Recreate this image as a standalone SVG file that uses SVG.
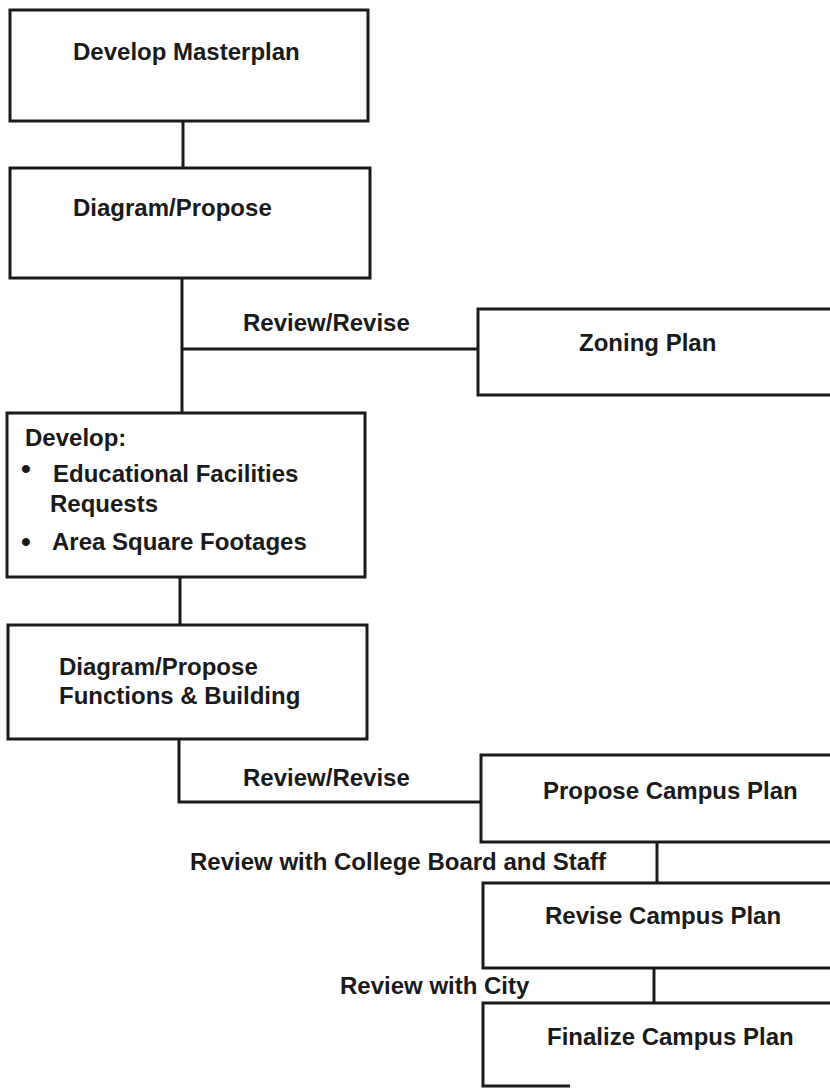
<svg xmlns="http://www.w3.org/2000/svg" width="830" height="1088" viewBox="0 0 830 1088">
<style>
.box{fill:#fff;stroke:#1a1a1a;stroke-width:3}
.ln{fill:none;stroke:#1a1a1a;stroke-width:3}
text{font-family:"Liberation Sans",Arial,Helvetica,sans-serif;font-weight:bold;font-size:24px;fill:#1a1a1a}
.bul{font-size:28px}
</style>
<rect width="830" height="1088" fill="#fff"/>
<g id="connectors">
<line class="ln" x1="183" y1="121" x2="183" y2="168"/>
<line class="ln" x1="182" y1="278" x2="182" y2="413"/>
<line class="ln" x1="182" y1="349" x2="478" y2="349"/>
<line class="ln" x1="180" y1="577" x2="180" y2="625"/>
<polyline class="ln" points="179,739 179,802 481,802"/>
<line class="ln" x1="657" y1="842" x2="657" y2="883"/>
<line class="ln" x1="654" y1="968" x2="654" y2="1003"/>
</g>
<g id="develop-masterplan">
<rect class="box" x="10" y="10" width="358" height="111"/>
<text x="73" y="60">Develop Masterplan</text>
</g>
<g id="diagram-propose">
<rect class="box" x="10" y="168" width="360" height="110"/>
<text x="73" y="216">Diagram/Propose</text>
</g>
<g id="label-review-revise-1">
<text x="243" y="331">Review/Revise</text>
</g>
<g id="zoning-plan">
<rect class="box" x="478" y="309" width="400" height="86"/>
<text x="579" y="351">Zoning Plan</text>
</g>
<g id="develop">
<rect class="box" x="7" y="413" width="358" height="164"/>
<text x="25" y="446">Develop:</text>
<text class="bul" x="21" y="478">•</text>
<text x="53" y="482">Educational Facilities</text>
<text x="50" y="512">Requests</text>
<text class="bul" x="21" y="551">•</text>
<text x="52" y="550">Area Square Footages</text>
</g>
<g id="diagram-propose-functions">
<rect class="box" x="8" y="625" width="359" height="114"/>
<text x="59" y="675">Diagram/Propose</text>
<text x="59" y="704">Functions &amp; Building</text>
</g>
<g id="label-review-revise-2">
<text x="243" y="786">Review/Revise</text>
</g>
<g id="propose-campus-plan">
<rect class="box" x="481" y="755" width="400" height="87"/>
<text x="543" y="799">Propose Campus Plan</text>
</g>
<g id="label-review-board">
<text x="190" y="870">Review with College Board and Staff</text>
</g>
<g id="revise-campus-plan">
<rect class="box" x="483" y="883" width="400" height="85"/>
<text x="545" y="924">Revise Campus Plan</text>
</g>
<g id="label-review-city">
<text x="340" y="994">Review with City</text>
</g>
<g id="finalize-campus-plan">
<path class="ln" d="M 840 1003 H 483 V 1086 H 570"/>
<text x="547" y="1045">Finalize Campus Plan</text>
</g>
</svg>
